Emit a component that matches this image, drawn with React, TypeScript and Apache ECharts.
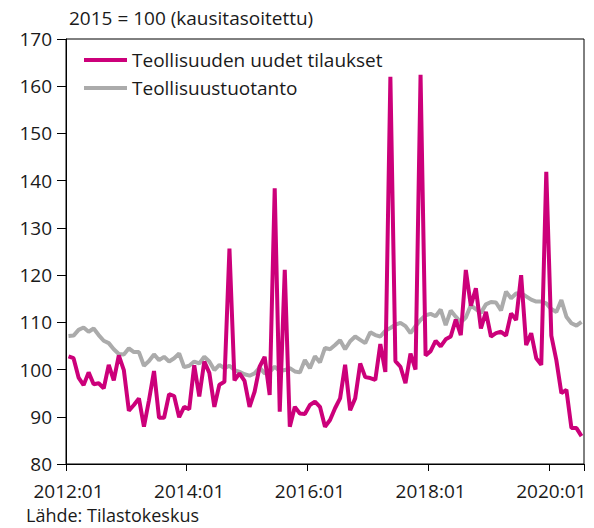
import React, { useEffect, useRef } from "react";
import * as echarts from "echarts";

const startYear = 2012;
const monthCount = 103; // 2012:01 .. 2020:07
const categories: string[] = [];
for (let k = 0; k < monthCount; k++) {
  const y = startYear + Math.floor(k / 12);
  const m = (k % 12) + 1;
  categories.push(`${y}:${m < 10 ? "0" + m : m}`);
}

const newOrders = [
  102.8, 102.4, 98.3, 96.7, 99.4, 96.9, 97.1, 96.0, 101.0, 97.7, 103.0, 99.9,
  91.3, 92.5, 93.9, 87.9, 93.5, 99.7, 89.8, 89.8, 94.8, 94.4, 89.9, 92.1,
  91.6, 100.9, 94.3, 101.7, 99.3, 92.1, 96.8, 97.4, 125.6, 97.7, 99.2, 97.6,
  92.1, 95.3, 100.6, 102.7, 94.6, 138.4, 91.1, 121.1, 87.9, 92.1, 90.7, 90.6,
  92.5, 93.2, 92.1, 87.9, 89.3, 91.8, 93.9, 101.0, 91.4, 93.9, 101.3, 98.4,
  98.2, 97.8, 105.4, 99.5, 162.0, 101.8, 100.6, 97.1, 103.4, 100.0, 162.4, 103.0,
  103.9, 106.1, 104.9, 106.4, 107.0, 110.6, 107.3, 121.1, 113.5, 117.2, 108.7, 112.2,
  107.0, 107.7, 108.0, 107.2, 111.9, 110.5, 120.0, 105.2, 107.7, 102.4, 101.0, 141.9,
  107.2, 102.0, 95.0, 95.7, 87.6, 87.6, 85.9,
];

const production = [
  107.1, 107.2, 108.4, 108.9, 108.0, 108.7, 107.3, 106.1, 105.6, 104.3, 103.3, 103.2,
  104.5, 103.7, 103.7, 100.8, 101.8, 103.2, 102.0, 102.7, 101.7, 102.4, 103.4, 100.5,
  100.8, 101.7, 101.3, 102.7, 101.7, 99.9, 101.0, 100.3, 100.8, 99.9, 99.5, 99.0,
  98.7, 99.2, 100.4, 99.2, 99.5, 100.6, 99.7, 99.9, 100.3, 99.6, 99.4, 102.0,
  100.3, 102.8, 101.5, 104.6, 104.3, 105.2, 106.2, 104.3, 106.0, 107.0, 106.3, 105.6,
  107.9, 107.3, 107.0, 108.2, 108.8, 109.5, 109.9, 109.2, 107.7, 109.2, 110.5, 111.5,
  111.8, 111.3, 112.7, 109.4, 112.5, 111.2, 110.0, 111.0, 113.6, 112.8, 112.0, 113.8,
  114.3, 114.2, 112.5, 116.5, 115.1, 116.1, 116.2, 115.5, 114.8, 114.4, 114.4, 114.0,
  112.8, 112.2, 114.7, 111.2, 109.8, 109.3, 110.1,
];

const seriesNames = ["Teollisuuden uudet tilaukset", "Teollisuustuotanto"];
const titleText = "2015 = 100 (kausitasoitettu)";
const sourceText = "Lähde: Tilastokeskus";

const FONT = "Open Sans";
const TXT = "#1a1a1a";

export default function App() {
  const ref = useRef<HTMLDivElement>(null);
  useEffect(() => {
    if (!ref.current) return;
    const chart = echarts.init(ref.current, undefined, { renderer: "svg" });
    chart.setOption({
      animation: false,
      backgroundColor: "#ffffff",
      textStyle: { fontFamily: FONT },
      title: {
        text: titleText,
        left: 69,
        top: 8,
        padding: 0,
        textStyle: { fontFamily: FONT, fontSize: 19, fontWeight: "normal", color: TXT },
      },
      legend: {
        data: [seriesNames[0], seriesNames[1]],
        orient: "vertical",
        left: 84,
        top: 50,
        padding: 0,
        icon: "rect",
        itemWidth: 43,
        itemHeight: 4,
        itemGap: 8,
        textStyle: { fontFamily: FONT, fontSize: 19, color: TXT, lineHeight: 20 },
      },
      grid: {
        left: 66,
        right: 10,
        top: 39,
        bottom: 64,
        show: true,
        borderColor: "#000",
        borderWidth: 1,
        backgroundColor: "transparent",
      },
      xAxis: {
        type: "category",
        data: categories,
        boundaryGap: true,
        axisLine: { lineStyle: { color: "#000", width: 1 } },
        axisTick: { show: true, interval: 23, length: 7, lineStyle: { color: "#000" } },
        axisLabel: { interval: 23, margin: 17, fontSize: 19, lineHeight: 20, color: TXT, fontFamily: FONT },
        splitLine: { show: false },
      },
      yAxis: {
        type: "value",
        min: 80,
        max: 170,
        interval: 10,
        axisLine: { show: true, lineStyle: { color: "#000", width: 1 } },
        axisTick: { show: true, length: 9, lineStyle: { color: "#000" } },
        axisLabel: { margin: 14, fontSize: 19, color: TXT, fontFamily: FONT },
        splitLine: { show: false },
      },
      graphic: [
        {
          type: "text",
          left: 26,
          top: 505,
          style: { text: sourceText, fontSize: 18, lineHeight: 20, fontFamily: FONT, fill: TXT },
        },
      ],
      series: [
        {
          name: seriesNames[1],
          type: "line",
          data: production,
          showSymbol: false,
          symbol: "none",
          lineStyle: { color: "#ABABAB", width: 4 },
          itemStyle: { color: "#ABABAB" },
          z: 2,
        },
        {
          name: seriesNames[0],
          type: "line",
          data: newOrders,
          showSymbol: false,
          symbol: "none",
          lineStyle: { color: "#CC007A", width: 4 },
          itemStyle: { color: "#CC007A" },
          z: 3,
        },
      ],
    });
    return () => chart.dispose();
  }, []);
  return (
    <div
      ref={ref}
      style={{ position: "fixed", left: 0, top: 0, width: 594, height: 528 }}
    />
  );
}
